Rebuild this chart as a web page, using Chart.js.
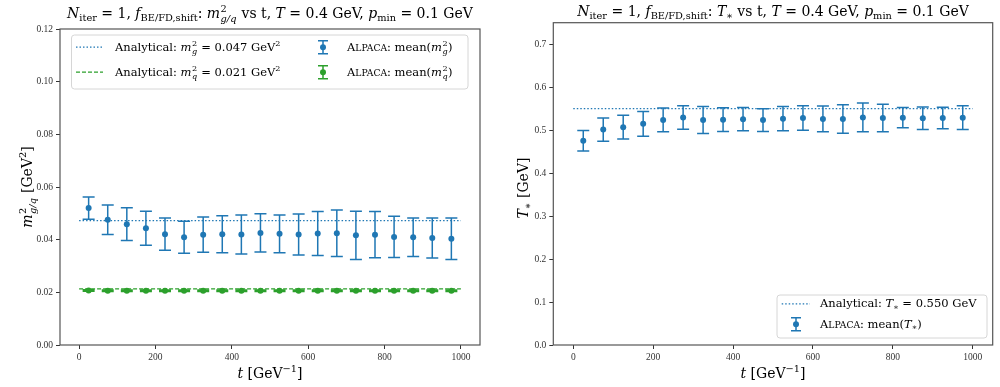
<!DOCTYPE html>
<html><head><meta charset="utf-8">
<script src="https://cdn.jsdelivr.net/npm/chart.js@4/dist/chart.umd.min.js"></script>
<style>
html,body{margin:0;padding:0;background:#fff;}
#wrap{position:relative;width:1000px;height:387px;overflow:hidden;}
.c{position:absolute;top:0;width:500px;height:387px;}
</style></head><body>
<div id="wrap">
<div class="c" style="left:0"><canvas id="left" width="500" height="387"></canvas></div>
<div class="c" style="left:500px"><canvas id="right" width="500" height="387"></canvas></div>
</div>
<script>
// ---------------- data ----------------
const tValues = [25,75,125,175,225,275,325,375,425,475,525,575,625,675,725,775,825,875,925,975];
const mgMean = [0.0520,0.0476,0.0459,0.04435,0.0421,0.0409,0.0419,0.04205,0.0420,0.04255,0.0422,0.04195,0.04235,0.04245,0.04165,0.0419,0.04105,0.0409,0.0406,0.04035];
const mgErr  = [0.0042,0.0056,0.0062,0.00645,0.0061,0.0061,0.0067,0.00705,0.0074,0.00725,0.0072,0.00775,0.00835,0.00885,0.00915,0.0088,0.00785,0.0073,0.0076,0.00785];
const mqMean = [0.0207,0.0206,0.0206,0.0206,0.0206,0.0206,0.0206,0.0206,0.0206,0.0206,0.0206,0.0206,0.0206,0.0206,0.0206,0.0206,0.0206,0.0206,0.0206,0.0206];
const mqErr  = [0.0003,0.0003,0.0003,0.0003,0.0003,0.0003,0.0003,0.0003,0.0003,0.0003,0.0003,0.0003,0.0003,0.0003,0.0003,0.0003,0.0003,0.0003,0.0003,0.0003];
const tsMean = [0.4752,0.5012,0.5070,0.5147,0.5237,0.5295,0.5236,0.5244,0.5256,0.5233,0.5267,0.5283,0.5260,0.5260,0.5295,0.5283,0.5291,0.5276,0.5283,0.5291];
const tsErr  = [0.0240,0.0268,0.0279,0.0287,0.0276,0.0272,0.0314,0.0275,0.0272,0.0264,0.0283,0.0283,0.0299,0.0330,0.0334,0.0322,0.0237,0.0260,0.0252,0.0275];
const analyticalT = [0, 1000];
const mgAnalytical = [0.0472, 0.0472];
const mqAnalytical = [0.0213, 0.0213];
const tsAnalytical = [0.550, 0.550];
const xTicks = [0,200,400,600,800,1000];
const leftYTicks = [0,0.02,0.04,0.06,0.08,0.10,0.12];
const rightYTicks = [0,0.1,0.2,0.3,0.4,0.5,0.6,0.7];

const BLUE = '#1f77b4', GREEN = '#2ca02c';
const FAM = '"DejaVu Serif", "Liberation Serif", serif';
const TICKFAM = '"Liberation Serif", serif';

// ---------------- rich text ----------------
function segFont(s, size){ return (s.i ? 'italic ' : '') + size + 'px ' + FAM; }
function norm(s){ return typeof s === 'string' ? {t:s} : s; }
function layoutRich(ctx, segs, size){
  const items = []; let w = 0;
  for (const raw of segs){
    const s = norm(raw);
    if (s.stack){
      let mw = 0;
      s.stack.forEach((p, k) => {
        const sz = size * 0.7;
        ctx.font = segFont(p, sz);
        const pw = ctx.measureText(p.t).width;
        items.push({t:p.t, font:ctx.font, dx:w + 0.5, dy: k === 0 ? -0.42*size : 0.3*size});
        mw = Math.max(mw, pw);
      });
      w += mw + size*0.08; continue;
    }
    let sz = size, dy = 0;
    if (s.sub){ sz = size*0.7; dy = 0.22*size; }
    if (s.sup){ sz = size*0.7; dy = -0.4*size; }
    if (s.sc){ sz = size*0.8; }
    ctx.font = segFont(s, sz);
    const tw = ctx.measureText(s.t).width;
    items.push({t:s.t, font:ctx.font, dx:w, dy});
    w += tw;
  }
  return {items, w};
}
function drawRich(ctx, segs, x, y, size, align, color){
  const L = layoutRich(ctx, segs, size);
  const x0 = align === 'center' ? x - L.w/2 : align === 'right' ? x - L.w : x;
  ctx.fillStyle = color || '#000'; ctx.textBaseline = 'alphabetic'; ctx.textAlign = 'left';
  for (const it of L.items){ ctx.font = it.font; ctx.fillText(it.t, x0 + it.dx, y + it.dy); }
}

// ---------------- plugins ----------------
const errorBars = {
  id: 'errorBars',
  beforeDatasetDraw(chart, args){
    const ds = chart.data.datasets[args.index];
    if (!ds.errors) return;
    const ctx = chart.ctx, xs = chart.scales.x, ys = chart.scales.y, a = chart.chartArea;
    ctx.save();
    ctx.beginPath(); ctx.rect(a.left, a.top, a.right - a.left, a.bottom - a.top); ctx.clip();
    ctx.strokeStyle = ds.backgroundColor; ctx.lineWidth = 1.5;
    ds.data.forEach((p, i) => {
      const e = ds.errors[i];
      const x = xs.getPixelForValue(p.x);
      const y1 = ys.getPixelForValue(p.y - e), y2 = ys.getPixelForValue(p.y + e);
      ctx.beginPath();
      ctx.moveTo(x, y1); ctx.lineTo(x, y2);
      ctx.moveTo(x - 6, y1); ctx.lineTo(x + 6, y1);
      ctx.moveTo(x - 6, y2); ctx.lineTo(x + 6, y2);
      ctx.stroke();
    });
    ctx.restore();
  }
};

function drawSample(ctx, kind, color, x0, x1, y){
  ctx.save();
  ctx.strokeStyle = color; ctx.fillStyle = color;
  if (kind === 'dotted' || kind === 'dashed'){
    ctx.lineWidth = 1.2;
    ctx.setLineDash(kind === 'dotted' ? [1.5, 2] : [4, 2]);
    ctx.beginPath(); ctx.moveTo(x0, y); ctx.lineTo(x1, y); ctx.stroke();
  } else {
    const x = x0;
    ctx.lineWidth = 1.5;
    ctx.beginPath();
    ctx.moveTo(x, y - 6.5); ctx.lineTo(x, y + 6.5);
    ctx.moveTo(x - 5, y - 6.5); ctx.lineTo(x + 5, y - 6.5);
    ctx.moveTo(x - 5, y + 6.5); ctx.lineTo(x + 5, y + 6.5);
    ctx.stroke();
    ctx.beginPath(); ctx.arc(x, y, 3, 0, Math.PI*2); ctx.fill();
  }
  ctx.restore();
}

const DECO = {};
const deco = {
  id: 'deco',
  afterDraw(chart){
    const o = DECO[chart.canvas.id];
    if (!o) return;
    const ctx = chart.ctx, a = chart.chartArea;
    ctx.save();
    ctx.strokeStyle = '#555'; ctx.lineWidth = 1.2;
    ctx.strokeRect(a.left, a.top, a.right - a.left, a.bottom - a.top);
    drawRich(ctx, o.title, (a.left + a.right)/2, o.titleY, 14, 'center');
    drawRich(ctx, o.xlabel, (a.left + a.right)/2, 378, 14, 'center');
    ctx.save();
    ctx.translate(o.ylabelX, o.ylabelY);
    ctx.rotate(-Math.PI/2);
    drawRich(ctx, o.ylabel, 0, 0, 14, 'center');
    ctx.restore();
    const L = o.legend;
    ctx.save();
    ctx.fillStyle = 'rgba(255,255,255,0.8)'; ctx.strokeStyle = '#d6d6d6'; ctx.lineWidth = 1;
    ctx.beginPath();
    if (ctx.roundRect) ctx.roundRect(L.x, L.y, L.w, L.h, 3); else ctx.rect(L.x, L.y, L.w, L.h);
    ctx.fill(); ctx.stroke();
    ctx.restore();
    for (const it of L.items){
      drawSample(ctx, it.kind, it.color, it.sx0, it.sx1, it.y - 3.5);
      drawRich(ctx, it.segs, it.tx, it.y, 11.5, 'left', '#000');
    }
    ctx.restore();
  }
};

// ---------------- helpers ----------------
const tickFont = {family: TICKFAM, size: 9.5};
function xScale(){
  return {
    type: 'linear', min: -50, max: 1050,
    afterBuildTicks: s => { s.ticks = xTicks.map(v => ({value: v})); },
    afterFit: s => { s.height = 42; },
    grid: {drawOnChartArea: false, drawTicks: true, tickLength: 4, color: '#333', lineWidth: 1},
    border: {display: false},
    ticks: {font: tickFont, color: '#333', padding: 3, maxRotation: 0, autoSkip: false, callback: v => String(v)}
  };
}
function yScale(min, max, ticksArr, width, digits){
  return {
    type: 'linear', min, max,
    afterBuildTicks: s => { s.ticks = ticksArr.map(v => ({value: v})); },
    afterFit: s => { s.width = width; },
    grid: {drawOnChartArea: false, drawTicks: true, tickLength: 4, color: '#333', lineWidth: 1},
    border: {display: false},
    ticks: {font: tickFont, color: '#333', padding: 3, autoSkip: false, callback: v => Number(v).toFixed(digits)}
  };
}
function pts(xs, ys){ return xs.map((x, i) => ({x, y: ys[i]})); }

const mSym = (sub) => [{t:'m', i:1}, {stack:[{t:'2'}, {t:sub, i:1}]}];
const tStar = [{t:'T', i:1}, {t:'∗', sub:1}];
const xlabel = [{t:'t', i:1}, ' [GeV', {t:'−1', sup:1}, ']'];

DECO.left = {
  title: [{t:'N', i:1}, {t:'iter', sub:1}, ' = 1, ', {t:'f', i:1}, {t:'BE/FD,shift', sub:1}, ': ', ...mSym('g/q'), ' vs t, ', {t:'T', i:1}, ' = 0.4 GeV, ', {t:'p', i:1}, {t:'min', sub:1}, ' = 0.1 GeV'],
  titleY: 18,
  xlabel,
  ylabel: [...mSym('g/q'), ' [GeV', {t:'2', sup:1}, ']'],
  ylabelX: 32, ylabelY: 187,
  legend: {x: 71.5, y: 35, w: 396.5, h: 54, items: [
    {kind:'dotted', color: BLUE, sx0: 76, sx1: 103, tx: 115, y: 50.7, segs: ['Analytical: ', ...mSym('g'), ' = 0.047 GeV', {t:'2', sup:1}]},
    {kind:'dashed', color: GREEN, sx0: 76, sx1: 103, tx: 115, y: 75.7, segs: ['Analytical: ', ...mSym('q'), ' = 0.021 GeV', {t:'2', sup:1}]},
    {kind:'err', color: BLUE, sx0: 323, sx1: 323, tx: 347, y: 50.7, segs: ['A', {t:'LPACA', sc:1}, ': mean(', ...mSym('g'), ')']},
    {kind:'err', color: GREEN, sx0: 323, sx1: 323, tx: 347, y: 75.7, segs: ['A', {t:'LPACA', sc:1}, ': mean(', ...mSym('q'), ')']}
  ]}
};
DECO.right = {
  title: [{t:'N', i:1}, {t:'iter', sub:1}, ' = 1, ', {t:'f', i:1}, {t:'BE/FD,shift', sub:1}, ': ', ...tStar, ' vs t, ', {t:'T', i:1}, ' = 0.4 GeV, ', {t:'p', i:1}, {t:'min', sub:1}, ' = 0.1 GeV'],
  titleY: 15.5,
  xlabel,
  ylabel: [...tStar, ' [GeV]'],
  ylabelX: 27.5, ylabelY: 188,
  legend: {x: 277, y: 295, w: 210, h: 43, items: [
    {kind:'dotted', color: BLUE, sx0: 281.7, sx1: 310, tx: 320, y: 307.3, segs: ['Analytical: ', ...tStar, ' = 0.550 GeV']},
    {kind:'err', color: BLUE, sx0: 296, sx1: 296, tx: 320, y: 327.7, segs: ['A', {t:'LPACA', sc:1}, ': mean(', ...tStar, ')']}
  ]}
};

// ---------------- left chart ----------------
new Chart(document.getElementById('left'), {
  type: 'scatter',
  data: {datasets: [
    {data: pts(analyticalT, mgAnalytical), showLine: true, borderColor: BLUE, borderWidth: 1.2, borderDash: [1.5, 2], pointRadius: 0},
    {data: pts(analyticalT, mqAnalytical), showLine: true, borderColor: GREEN, borderWidth: 1.2, borderDash: [4, 2], pointRadius: 0},
    {data: pts(tValues, mgMean), errors: mgErr, backgroundColor: BLUE, borderWidth: 0, pointRadius: 3},
    {data: pts(tValues, mqMean), errors: mqErr, backgroundColor: GREEN, borderWidth: 0, pointRadius: 3}
  ]},
  options: {
    responsive: false, animation: false, events: [],
    layout: {padding: {left: 0, right: 20, top: 29, bottom: 0}},
    scales: {x: xScale(), y: yScale(0, 0.12, leftYTicks, 60, 2)},
    plugins: {legend: {display: false}, tooltip: {enabled: false}}
  },
  plugins: [errorBars, deco]
});

// ---------------- right chart ----------------
new Chart(document.getElementById('right'), {
  type: 'scatter',
  data: {datasets: [
    {data: pts(analyticalT, tsAnalytical), showLine: true, borderColor: BLUE, borderWidth: 1.2, borderDash: [1.5, 2], pointRadius: 0},
    {data: pts(tValues, tsMean), errors: tsErr, backgroundColor: BLUE, borderWidth: 0, pointRadius: 3}
  ]},
  options: {
    responsive: false, animation: false, events: [],
    layout: {padding: {left: 0, right: 7.3, top: 22.7, bottom: 0}},
    scales: {x: xScale(), y: yScale(0, 0.75, rightYTicks, 53.3, 1)},
    plugins: {legend: {display: false}, tooltip: {enabled: false}}
  },
  plugins: [errorBars, deco]
});
</script>
</body></html>
